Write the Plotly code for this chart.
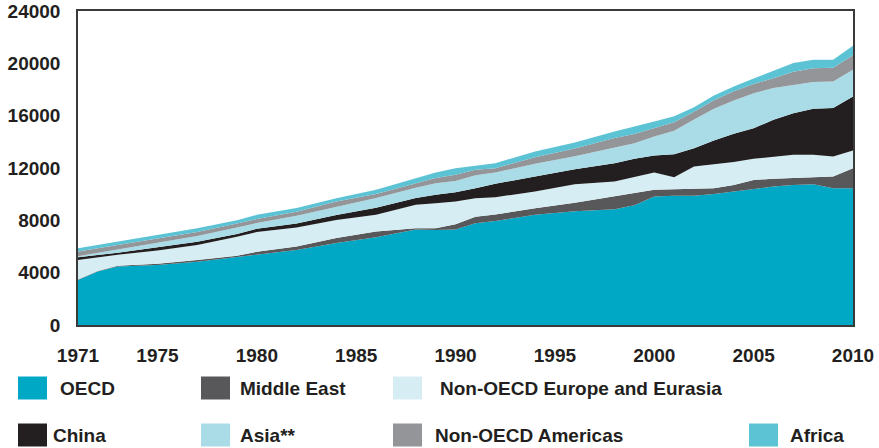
import plotly.graph_objects as go

# ---------------- data (TWh) ----------------
years = [1971, 1972, 1973, 1975, 1977, 1979, 1980, 1982, 1984, 1986, 1988, 1989, 1990,
         1991, 1992, 1994, 1996, 1998, 1999, 2000, 2001, 2002, 2003, 2004, 2005, 2006,
         2007, 2008, 2009, 2010]

oecd = [3440, 4080, 4470, 4590, 4840, 5180, 5400, 5730, 6260, 6700, 7300, 7270, 7300,
        7780, 7950, 8420, 8700, 8850, 9150, 9820, 9870, 9870, 10010, 10200, 10410, 10580,
        10710, 10760, 10460, 10460]
middle_east = [40, 40, 50, 100, 130, 120, 200, 270, 390, 440, 100, 130, 400,
               500, 500, 510, 650, 970, 900, 510, 510, 530, 450, 510, 670, 600,
               510, 500, 890, 1530]
non_oecd_europe = [1490, 1050, 840, 1000, 1150, 1450, 1500, 1450, 1380, 1280, 1800, 1900, 1730,
                   1410, 1320, 1270, 1400, 1140, 1250, 1320, 920, 1710, 1830, 1740, 1620, 1700,
                   1790, 1750, 1530, 1350]
china = [210, 180, 170, 250, 250, 200, 250, 300, 380, 540, 500, 650, 720,
         770, 1020, 1150, 1150, 1410, 1400, 1300, 1750, 1400, 1810, 2160, 2340, 2800,
         3180, 3520, 3700, 4130]
asia = [80, 170, 270, 360, 430, 500, 450, 600, 630, 740, 800, 890, 850,
        990, 860, 970, 1000, 1220, 1200, 1450, 1800, 2190, 2430, 2550, 2680, 2430,
        2170, 2040, 2030, 2040]
non_oecd_americas = [350, 340, 300, 300, 300, 300, 300, 300, 390, 320, 360, 390, 480,
                     410, 340, 500, 600, 700, 700, 650, 650, 600, 650, 700, 700, 750,
                     1000, 1050, 1050, 1100]
africa = [260, 260, 270, 250, 300, 250, 320, 300, 250, 310, 360, 420, 510,
          340, 380, 440, 450, 500, 550, 500, 450, 350, 360, 370, 420, 570,
          660, 650, 610, 730]

series_names = ["OECD", "Middle East", "Non-OECD Europe and Eurasia", "China",
                "Asia**", "Non-OECD Americas", "Africa"]
series_values = [oecd, middle_east, non_oecd_europe, china, asia, non_oecd_americas, africa]

x_tick_vals = [1971, 1975, 1980, 1985, 1990, 1995, 2000, 2005, 2010]
y_tick_vals = [0, 4000, 8000, 12000, 16000, 20000, 24000]

# ---------------- styling ----------------
colors = ["#00A8C6", "#58585A", "#D6EEF3", "#231F20", "#A9DCE6", "#949599", "#5CC3D5"]
FONT = "Liberation Sans, Arial, sans-serif"
TXT = "#231F20"

W, H = 879, 448
ML, MR, MT, MB = 78, 26, 11, 123
PW, PH = W - ML - MR, H - MT - MB

fig = go.Figure()
for name, vals, col in zip(series_names, series_values, colors):
    fig.add_trace(go.Scatter(
        x=years, y=vals, name=name, stackgroup="one", mode="lines",
        line=dict(width=0, color=col), fillcolor=col, showlegend=False,
        hoverinfo="x+y+name"))

# custom legend laid out like the reference (pixel positions -> paper coords)
legend_layout = [  # (square left px, text left px, row centre px)
    (18, 58, 388), (201, 238, 388), (393, 438, 388),
    (18, 51, 435), (201, 238, 435), (393, 433, 435), (749, 788, 435),
]
def px_x(p):
    return (p - ML) / PW
def px_y(p):
    return (H - MB - p) / PH

shapes = []
annotations = []
for (sq, tx, cy), name, col in zip(legend_layout, series_names, colors):
    shapes.append(dict(type="rect", xref="paper", yref="paper",
                       x0=px_x(sq), x1=px_x(sq + 29), y0=px_y(cy - 11.5), y1=px_y(cy + 11.5),
                       fillcolor=col, line=dict(width=0), layer="above"))
    annotations.append(dict(text=name, xref="paper", yref="paper", x=px_x(tx), y=px_y(cy),
                            xanchor="left", yanchor="middle", showarrow=False,
                            font=dict(family=FONT, size=19, color=TXT, weight="bold")))

fig.update_layout(
    width=W, height=H,
    margin=dict(l=ML, r=MR, t=MT, b=MB, pad=0, autoexpand=False),
    paper_bgcolor="white", plot_bgcolor="white",
    shapes=shapes, annotations=annotations,
    showlegend=False,
    font=dict(family=FONT, color=TXT),
)
fig.update_xaxes(
    range=[1971, 2010], tickmode="array", tickvals=x_tick_vals,
    ticktext=[str(v) for v in x_tick_vals], automargin=False,
    showgrid=False, zeroline=False, showline=True, mirror=True,
    linecolor="#3A3A3A", linewidth=1.5, ticks="", ticklabelstandoff=12,
    tickfont=dict(family=FONT, size=19, color=TXT, weight="bold"),
)
fig.update_yaxes(
    range=[0, 24000], tickmode="array", tickvals=y_tick_vals,
    ticktext=[str(v) for v in y_tick_vals], automargin=False,
    showgrid=False, zeroline=False, showline=True, mirror=True,
    linecolor="#3A3A3A", linewidth=1.5, ticks="", ticklabelstandoff=12,
    tickfont=dict(family=FONT, size=19, color=TXT, weight="bold"),
)

fig.write_html("out.html", config={"displayModeBar": False},
               post_script="document.body.style.margin='0';document.body.style.overflow='hidden';")
